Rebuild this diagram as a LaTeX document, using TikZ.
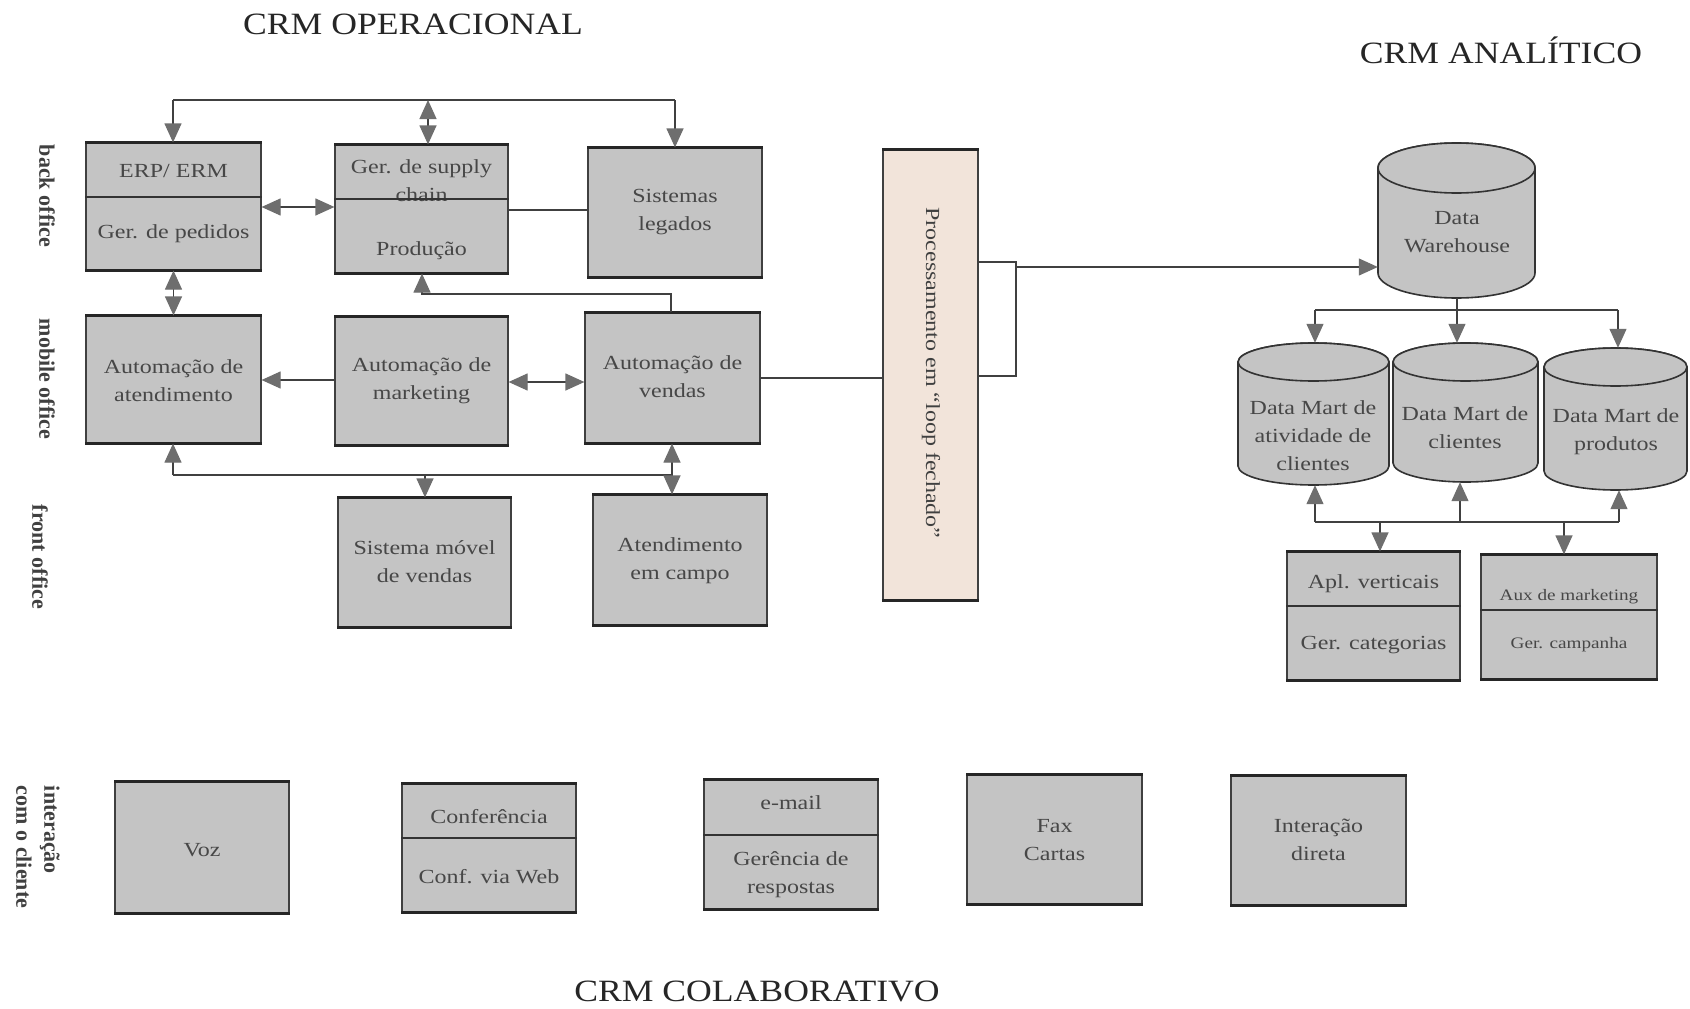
\documentclass[tikz,border=0pt]{standalone}
\usepackage{fontspec}
\setmainfont{Liberation Serif}
\newfontfamily\boxfont[FakeStretch=1.2]{Liberation Serif}
\newfontfamily\titlefont[FakeStretch=1.15]{Liberation Serif}
\usetikzlibrary{arrows.meta}
\definecolor{boxfill}{RGB}{196,196,196}
\definecolor{procfill}{RGB}{242,228,218}
\definecolor{tipgray}{RGB}{110,110,110}
\newcommand\mycyl[6]{% name, L, R, T, B, ry
  \pgfmathsetmacro\myCx{(#2+#3)/2}
  \pgfmathsetmacro\myRx{(#3-#2)/2}
  \pgfmathsetmacro\myTc{#4+#6}
  \pgfmathsetmacro\myBc{#5-#6}
  \pgfmathsetmacro\myCy{(#4+#5)/2}
  \pgfmathsetmacro\myW{#3-#2}
  \pgfmathsetmacro\myH{#5-#4}
  \filldraw[cylbody] (#2,\myTc) -- (#2,\myBc)
     arc[start angle=180, end angle=360, x radius=\myRx pt, y radius=#6pt]
     -- (#3,\myTc)
     arc[start angle=0, end angle=180, x radius=\myRx pt, y radius=#6pt] -- cycle;
  \draw[cylbody] (\myCx,\myTc) ellipse[x radius=\myRx pt, y radius=#6pt];
  \node[inner sep=0pt, minimum width=\myW pt, minimum height=\myH pt] (#1) at (\myCx,\myCy) {};
}
\tikzset{
  >={Triangle[length=19pt,width=17pt,color=tipgray]},
  thickedge/.style={draw=black!85, line width=2.6pt},
  box/.style={draw=black!75, line width=1.2pt, fill=boxfill, inner sep=0pt,
    append after command={(\tikzlastnode.north west) edge[thickedge] (\tikzlastnode.north east)
      (\tikzlastnode.south west) edge[thickedge] (\tikzlastnode.south east)}},
  cylbody/.style={draw=black!80, line width=1.6pt, fill=boxfill},
  divider/.style={draw=black!80, line width=1.6pt},
  btext/.style={font={\boxfont\fontsize{20}{28}\selectfont}, text=black!72, align=center, inner sep=0pt},
  stext/.style={font={\boxfont\fontsize{16}{22}\selectfont}, text=black!72, align=center, inner sep=0pt},
  side/.style={font={\bfseries\fontsize{22}{28}\selectfont}, text=black!75, rotate=-90, inner sep=0pt},
  title/.style={font={\titlefont\fontsize{31}{36}\selectfont}, text=black!85, inner sep=0pt},
  conn/.style={draw=black!75, line width=1.2pt},
  arr/.style={conn, ->},
  darr/.style={conn, <->},
}
\begin{document}
\begin{tikzpicture}[x=1pt, y=-1pt]
\useasboundingbox (0,0) rectangle (1690,1009);
\fill[white] (0,0) rectangle (1690,1009);

% titles
\node[title] (tOp) at (413,24) {CRM OPERACIONAL};
\node[title] (tAn) at (1501,50) {CRM ANALÍTICO};
\node[title] (tCo) at (757,991) {CRM COLABORATIVO};

% side labels
\node[side] (lBack) at (47,196) {back office};
\node[side] (lMob) at (47,379) {mobile office};
\node[side] (lFront) at (40,557) {front office};
\node[side, align=left] (lInt) at (38,847) {interação\\com o cliente};

% operational boxes
\node[box, minimum width=175pt, minimum height=127pt] (erp) at (173.5,206.5) {};
\draw[divider] (erp.west |- 0,197) -- (erp.east |- 0,197);
\node[btext] (erpA) at (173.5,171) {ERP/ ERM};
\node[btext] (erpB) at (173.5,234) {Ger. de pedidos};

\node[box, minimum width=173pt, minimum height=128pt] (gsc) at (421.5,209) {};
\node[btext] (gscA) at (421.5,181) {Ger. de supply\\chain};
\draw[divider] (gsc.west |- 0,199) -- (gsc.east |- 0,199);
\node[btext] (gscB) at (421.5,251) {Produção};

\node[box, minimum width=174pt, minimum height=129pt] (sis) at (675,212.5) {};
\node[btext] (sisT) at (675,212) {Sistemas\\legados};

\node[box, minimum width=175pt, minimum height=127pt] (atd) at (173.5,379.5) {};
\node[btext] (atdT) at (173.5,381) {Automação de\\atendimento};

\node[box, minimum width=173pt, minimum height=128pt] (mkt) at (421.5,381) {};
\node[btext] (mktT) at (421.5,381) {Automação de\\marketing};

\node[box, minimum width=175pt, minimum height=130pt] (vnd) at (672.5,378) {};
\node[btext] (vndT) at (672.5,377) {Automação de\\vendas};

\node[box, minimum width=173pt, minimum height=129pt] (smv) at (424.5,562.5) {};
\node[btext] (smvT) at (424.5,562) {Sistema móvel\\de vendas};

\node[box, minimum width=174pt, minimum height=130pt] (atc) at (680,560) {};
\node[btext] (atcT) at (680,561) {Atendimento\\em campo};

% processing box
\node[box, fill=procfill, minimum width=95pt, minimum height=450pt] (proc) at (930.5,375) {};
\node[btext, rotate=-90, text=black!75] (procT) at (931,373) {Processamento em “loop fechado”};

% operational connectors
\coordinate (tb1) at (173,100);
\coordinate (tb2) at (428,100);
\coordinate (tb3) at (675,100);
\draw[conn] (tb1) -- (tb3);
\draw[arr] (tb1) -- (tb1 |- erp.north);
\draw[darr] (tb2) -- (tb2 |- gsc.north);
\draw[arr] (tb3) -- (tb3 |- sis.north);
\draw[darr] (erp.east |- 0,207) -- (gsc.west |- 0,207);
\draw[conn] (gsc.east |- 0,210) -- (sis.west |- 0,210);
\draw[darr] (erp.south) -- (atd.north);
\draw[arr] (mkt.west |- 0,380) -- (atd.east |- 0,380);
\draw[darr] (mkt.east |- 0,382) -- (vnd.west |- 0,382);
\coordinate (v1) at (671,294);
\coordinate (v2) at (422,294);
\draw[arr] (v1 |- vnd.north) -- (v1) -- (v2) -- (v2 |- gsc.south);
\draw[conn] (vnd.east) -- (vnd.east -| proc.west);
\coordinate (f1) at (173,475);
\coordinate (f2) at (425,475);
\coordinate (f3) at (672,475);
\draw[conn] (f1) -- (f3);
\draw[arr] (f1) -- (f1 |- atd.south);
\draw[arr] (f2) -- (f2 |- smv.north);
\draw[arr] (f3) -- (f3 |- vnd.south);
\draw[arr] (f3) -- (f3 |- atc.north);

% analytical part
\mycyl{dw}{1378}{1535}{143}{298}{25}
\node[btext] (dwT) at (1457,232) {Data\\Warehouse};
\mycyl{dma}{1238}{1389}{343}{485}{19}
\node[btext] (dmaT) at (1313,436) {Data Mart de\\atividade de\\clientes};
\mycyl{dmb}{1393}{1538}{343}{482}{19}
\node[btext] (dmbT) at (1465,428) {Data Mart de\\clientes};
\mycyl{dmc}{1544}{1687}{348}{490}{19}
\node[btext] (dmcT) at (1616,432) {Data Mart de\\produtos};

\coordinate (b1) at (1016,262);
\coordinate (b2) at (1016,376);
\coordinate (b3) at (1016,267);
\draw[conn] (proc.east |- b1) -- (b1) -- (b2) -- (proc.east |- b2);
\draw[arr] (b3) -- (b3 -| dw.west);

\coordinate (d0) at (1457,310);
\coordinate (d1) at (1315,310);
\coordinate (d3) at (1618,310);
\draw[conn] (d0 |- dw.south) -- (d0);
\draw[conn] (d1) -- (d3);
\draw[arr] (d1) -- (d1 |- dma.north);
\draw[arr] (d0) -- (d0 |- dmb.north);
\draw[arr] (d3) -- (d3 |- dmc.north);

\node[box, minimum width=173pt, minimum height=128pt] (apl) at (1373.5,616) {};
\draw[divider] (apl.west |- 0,606) -- (apl.east |- 0,606);
\node[btext] (aplA) at (1373.5,584) {Apl. verticais};
\node[btext] (aplB) at (1373.5,645) {Ger. categorias};

\node[box, minimum width=176pt, minimum height=124pt] (aux) at (1569,617) {};
\draw[divider] (aux.west |- 0,610) -- (aux.east |- 0,610);
\node[stext] (auxA) at (1569,597) {Aux de marketing};
\node[stext] (auxB) at (1569,645) {Ger. campanha};

\coordinate (e1) at (1315,522);
\coordinate (e2) at (1460,522);
\coordinate (e3) at (1619,522);
\coordinate (e4) at (1380,522);
\coordinate (e5) at (1564,522);
\draw[conn] (e1) -- (e3);
\draw[arr] (e1) -- (e1 |- dma.south);
\draw[arr] (e2) -- (e2 |- dmb.south);
\draw[arr] (e3) -- (e3 |- dmc.south);
\draw[arr] (e4) -- (e4 |- apl.north);
\draw[arr] (e5) -- (e5 |- aux.north);

% collaborative part
\node[box, minimum width=174pt, minimum height=131pt] (voz) at (202,847.5) {};
\node[btext] (vozT) at (202,850) {Voz};

\node[box, minimum width=174pt, minimum height=128pt] (conf) at (489,848) {};
\draw[divider] (conf.west |- 0,838) -- (conf.east |- 0,838);
\node[btext] (confA) at (489,817) {Conferência};
\node[btext] (confB) at (489,877) {Conf. via Web};

\node[box, minimum width=174pt, minimum height=129pt] (email) at (791,844.5) {};
\draw[divider] (email.west |- 0,835) -- (email.east |- 0,835);
\node[btext] (emailA) at (791,803) {e-mail};
\node[btext] (emailB) at (791,875) {Gerência de\\respostas};

\node[box, minimum width=175pt, minimum height=129pt] (fax) at (1054.5,839.5) {};
\node[btext] (faxT) at (1054.5,840) {Fax\\Cartas};

\node[box, minimum width=175pt, minimum height=129pt] (idir) at (1318.5,840.5) {};
\node[btext] (idirT) at (1318.5,840) {Interação\\direta};
\end{tikzpicture}
\end{document}
